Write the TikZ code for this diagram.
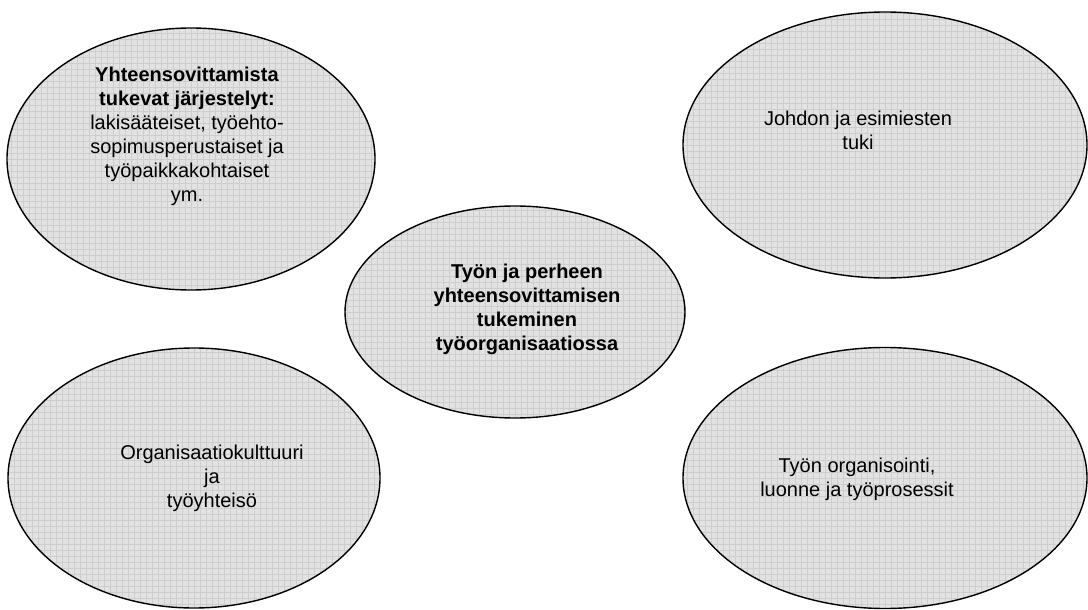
\documentclass[tikz,border=0pt]{standalone}
\usepackage{fontspec}
\setmainfont{Liberation Sans}
\usetikzlibrary{shapes.geometric}
\definecolor{fillgray}{HTML}{E2E2E2}
\definecolor{gridgray}{HTML}{CECECE}
\tikzset{
  bubble/.style={ellipse, draw=black, line width=1.4pt, fill=fillgray, inner sep=0pt,
    path picture={\draw[gridgray, line width=0.5pt, step=6pt]
      (path picture bounding box.south west) grid (path picture bounding box.north east);}},
  lbl/.style={align=center, font=\fontsize{20}{24}\selectfont, inner sep=0pt},
}
\begin{document}
\begin{tikzpicture}[x=1pt,y=-1pt]
\useasboundingbox (0,0) rectangle (1088,610);
\node[bubble, minimum width=368pt, minimum height=262pt] (tl) at (191,159) {};
\node[bubble, minimum width=404pt, minimum height=266pt] (tr) at (885,145) {};
\node[bubble, minimum width=372pt, minimum height=260pt] (bl) at (194,478) {};
\node[bubble, minimum width=404pt, minimum height=261pt] (br) at (885,478) {};
\node[bubble, minimum width=340pt, minimum height=212pt] (c) at (515,312) {};
\node[lbl] (tltext) at (187,136) {\textbf{Yhteensovittamista}\\ \textbf{tukevat järjestelyt:}\\ lakisääteiset, työehto-\\ sopimusperustaiset ja\\ työpaikkakohtaiset\\ ym.};
\node[lbl] (trtext) at (858,130) {Johdon ja esimiesten\\ tuki};
\node[lbl, font=\fontsize{20}{24}\selectfont\bfseries] (ctext) at (527,309) {Työn ja perheen\\ yhteensovittamisen\\ tukeminen\\ työorganisaatiossa};
\node[lbl] (bltext) at (212,478) {Organisaatiokulttuuri\\ ja\\ työyhteisö};
\node[lbl] (brtext) at (857,479) {Työn organisointi,\\ luonne ja työprosessit};
\end{tikzpicture}
\end{document}
